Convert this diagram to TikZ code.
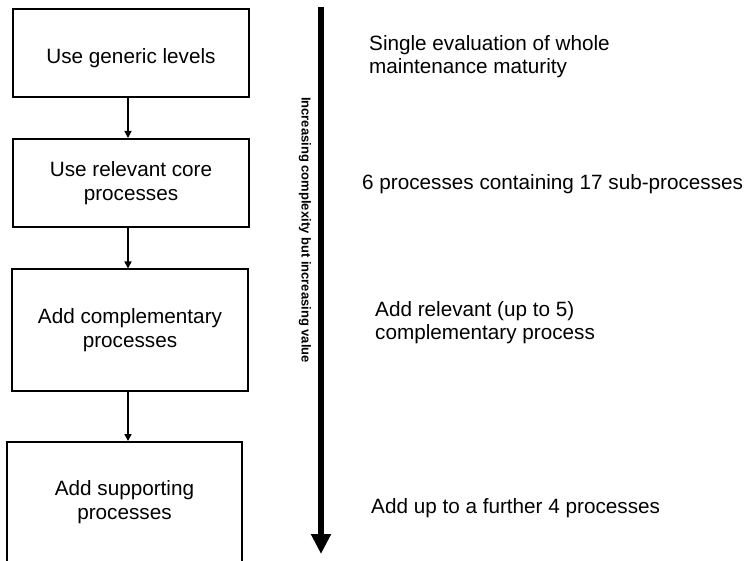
\documentclass[tikz,border=0pt]{standalone}
\usepackage{fontspec}
\setmainfont{Liberation Sans}
\usetikzlibrary{arrows.meta}
\begin{document}
\begin{tikzpicture}[x=1pt,y=-1pt,
  stagebox/.style={draw, line width=2pt, minimum width=236pt, align=center,
    font=\fontsize{20.7}{24}\selectfont, inner sep=0pt},
  note/.style={anchor=west, align=left, font=\fontsize{20.7}{23}\selectfont, inner sep=0pt},
  link/.style={line width=1.5pt, -{Triangle[width=7pt,length=7pt]}},
  trend/.style={line width=6pt, -{Triangle[width=19pt,length=20pt]}}]
\useasboundingbox (0,0) rectangle (747,561);
\clip (0,0) rectangle (747,561);

% left column of stages
\node[stagebox, minimum height=88pt, text height=26pt, text depth=4pt] (s1) at (131,53) {Use generic levels};
\node[stagebox, minimum height=88pt] (s2) at (131,183) {Use relevant core\\processes};
\node[stagebox, minimum height=121pt] (s3) at (130,330) {Add complementary\\processes};
\node[stagebox, minimum width=235pt, minimum height=120pt] (s4) at (124.5,502) {Add supporting\\processes};

% vertical connectors share one axis
\coordinate (spine) at (128,0);
\draw[link] (s1.south -| spine) -- (s2.north -| spine);
\draw[link] (s2.south -| spine) -- (s3.north -| spine);
\draw[link] (s3.south -| spine) -- (s4.north -| spine);

% overall direction arrow
\coordinate (top) at (321,7);
\coordinate (bottom) at (321,554);
\draw[trend] (top) -- (bottom);
\node[rotate=-90, font=\bfseries\fontsize{13}{15}\selectfont, inner sep=0pt] (lbl) at (305,230)
  {Increasing complexity but increasing value};

% descriptions
\node[note] (d1) at (369,57) {Single evaluation of whole\\maintenance maturity};
\node[note] (d2) at (362,184) {6 processes containing 17 sub-processes};
\node[note] (d3) at (375,323) {Add relevant (up to 5)\\complementary process};
\node[note] (d4) at (371,508) {Add up to a further 4 processes};
\end{tikzpicture}
\end{document}
